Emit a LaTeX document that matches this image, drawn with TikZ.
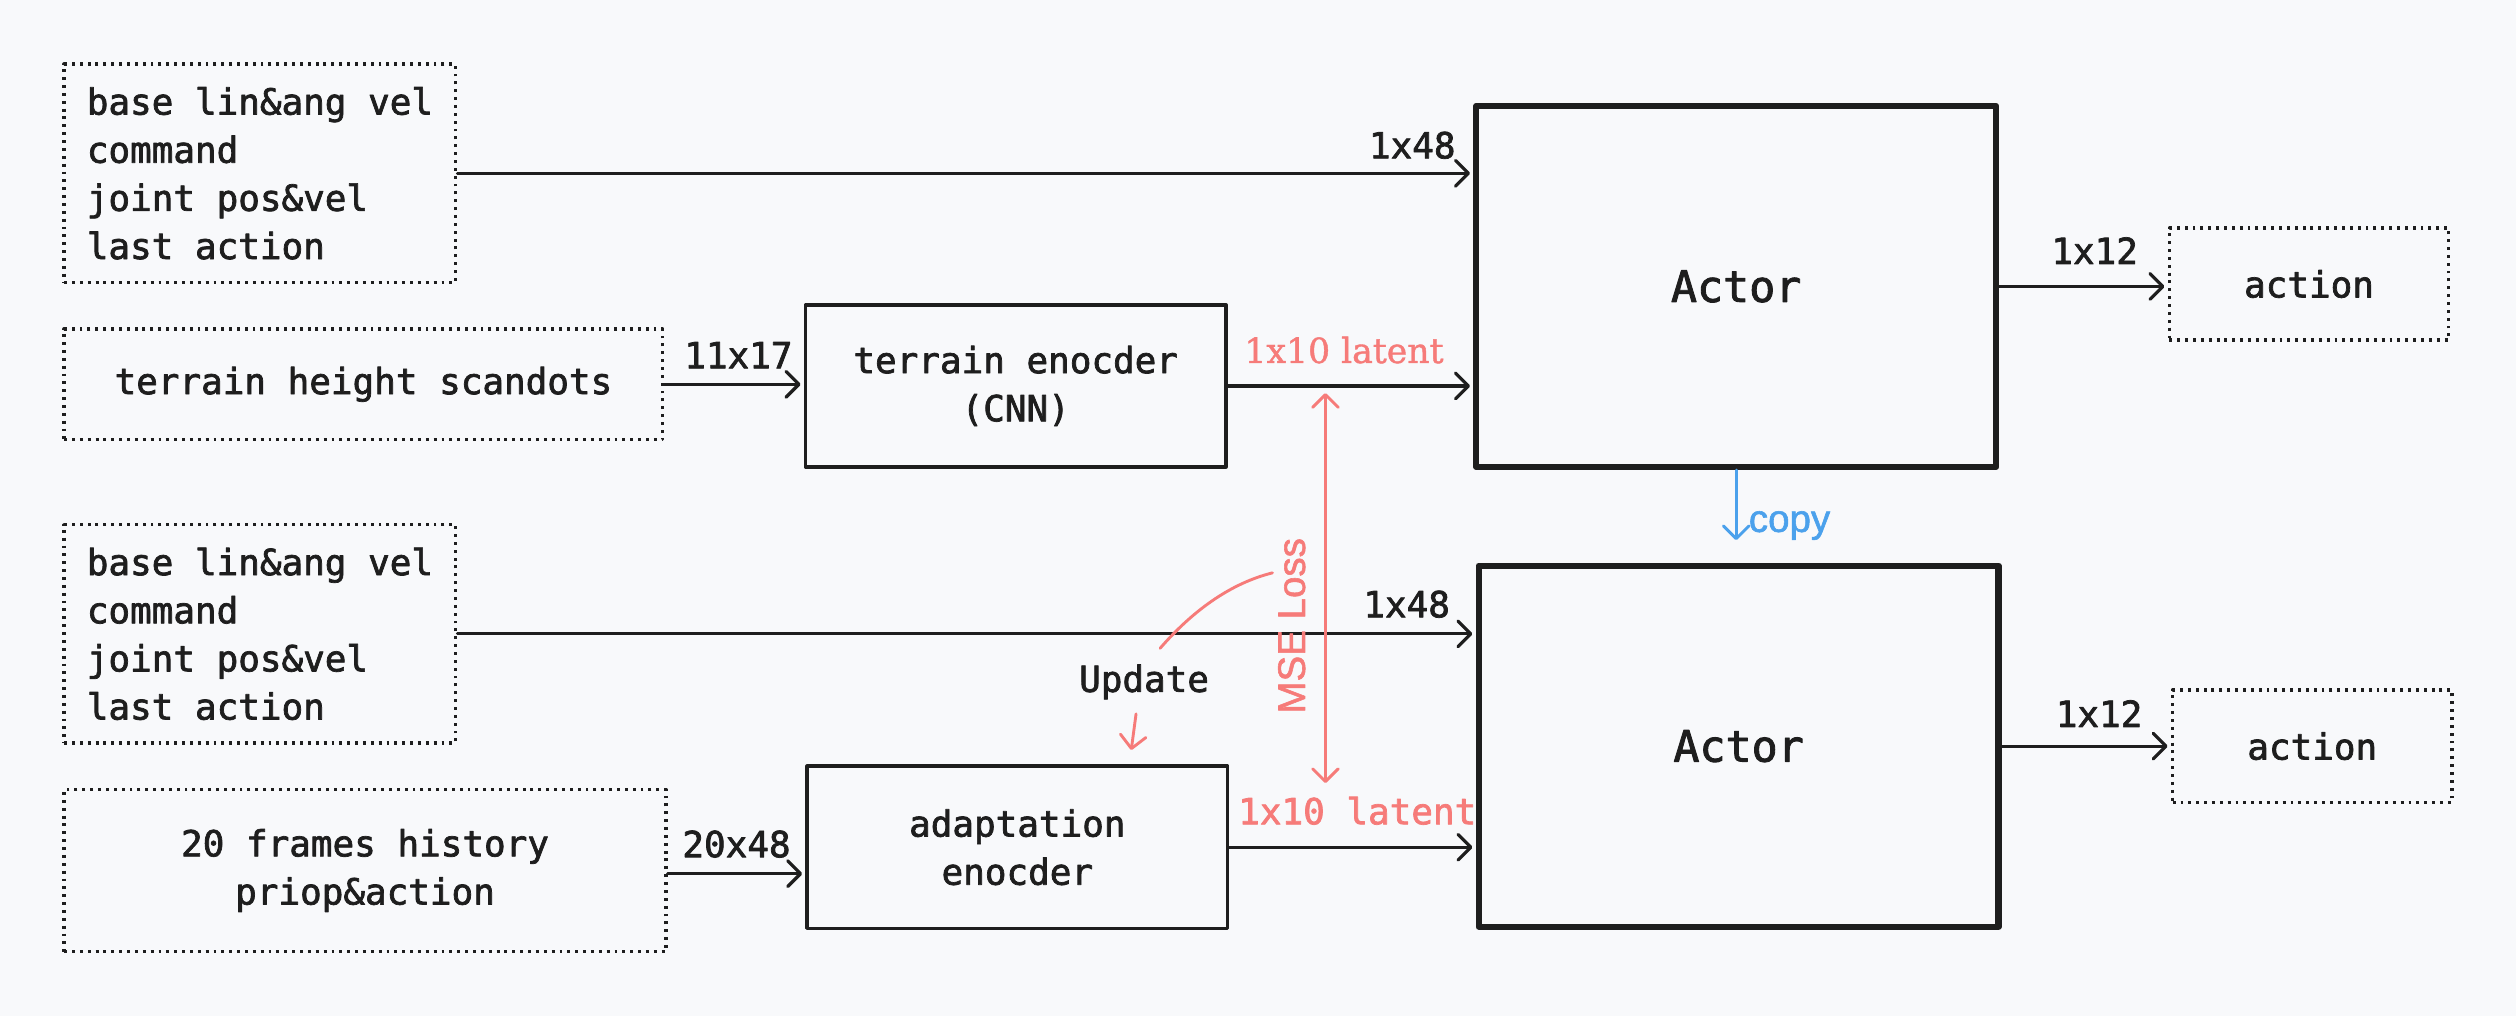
\documentclass[tikz,border=0pt]{standalone}
\usepackage{fontspec}
\setmainfont{DejaVu Serif}[FakeBold=1.2]
\setsansfont{Liberation Sans}[FakeBold=1.5]
\setmonofont{DejaVu Sans Mono}[FakeBold=2]
\usetikzlibrary{arrows.meta, positioning}

\definecolor{bgcol}{HTML}{F8F9FB}
\definecolor{inkcol}{HTML}{1E1E1E}
\definecolor{losscol}{HTML}{F67B79}
\definecolor{copycol}{HTML}{4BA1EC}

\begin{document}
\begin{tikzpicture}[
    x=0.5pt, y=-0.5pt,
    >={Straight Barb[round, length=4pt, width=8pt]},
    line join=round,
    font=\fontsize{11.2}{15}\selectfont\ttfamily,
    every node/.style={text=inkcol},
    dotbox/.style={draw=inkcol, line width=1.1pt, dash pattern=on 0.9pt off 1.55pt},
    obsbox/.style={dotbox, minimum width=122pt, minimum height=68pt, align=left},
    encbox/.style={draw=inkcol, line width=1.1pt, minimum width=131pt, minimum height=50.5pt, align=center},
    actorbox/.style={draw=inkcol, line width=1.9pt, minimum width=162pt, minimum height=112.5pt,
                     font=\fontsize{13.5}{16}\selectfont\ttfamily},
    flow/.style={->, draw=inkcol, line width=1pt, line cap=round, shorten >=1pt},
    dimlabel/.style={inner sep=4.5pt},
    latentlabel/.style={inner sep=4.5pt, text=losscol},
    lossline/.style={draw=losscol, line width=0.9pt, line cap=round}
]

  % ==================== ФОН ====================
  \fill[bgcol] (0,0) rectangle (1568,633);
  \useasboundingbox (0,0) rectangle (1568,633);

  % ==================== 1. ВЕРХНЯ ГІЛКА (TEACHER) ====================
  \node[obsbox] (obs1) at (162,108) {base lin\&ang vel\\command\\joint pos\&vel\\last action};
  \node[dotbox, minimum width=186.5pt, minimum height=34.5pt]
    (scan) at (226.5,239.5) {terrain height scandots};
  \node[encbox] (tenc) at (633,240.5) {terrain enocder\\(CNN)};
  \node[actorbox] (actor1) at (1082,178.5) {Actor};
  \node[dotbox, minimum width=87pt, minimum height=35pt] (act1) at (1439,177) {action};

  \draw[flow] (obs1.east) -- (obs1.east -| actor1.west)
    node[dimlabel, anchor=south east, xshift=-1pt, inner sep=4pt] (dimA) {1x48};
  \draw[flow] (scan.east) -- (scan.east -| tenc.west)
    node[dimlabel, anchor=south east, inner sep=3pt, yshift=1.5pt] (dimB) {11x17};
  \draw[flow] (tenc.east) -- (tenc.east -| actor1.west)
    node[midway, above, latentlabel, xshift=-2pt, yshift=2pt, font=\fontsize{10.8}{13}\selectfont\rmfamily] (lat1) {1x10 latent};
  \draw[flow] (actor1.east) -- (actor1.east -| act1.west)
    node[midway, above, dimlabel, xshift=3.5pt, yshift=2pt] (dimC) {1x12};

  % ==================== 2. КОПІЮВАННЯ ====================
  \node[actorbox] (actor2) at (1083.5,465) {Actor};
  \draw[->, draw=copycol, line width=0.9pt, line cap=round, shorten >=7pt]
    (actor1.south) -- (actor1.south |- actor2.north)
    node[pos=0.6, right, text=copycol, inner sep=3.5pt, font=\fontsize{12}{14}\selectfont\sffamily] (copy) {copy};

  % ==================== 3. НИЖНЯ ГІЛКА (STUDENT) ====================
  \node[obsbox] (obs2) at (162,395) {base lin\&ang vel\\command\\joint pos\&vel\\last action};
  \node[dotbox, minimum width=187.5pt, minimum height=50.5pt, align=center]
    (hist) at (227.5,542.5) {20 frames history\\priop\&action};
  \node[encbox] (aenc) at (634,528) {adaptation\\enocder};
  \node[dotbox, minimum width=87pt, minimum height=35pt] (act2) at (1441,465) {action};

  \draw[flow] (obs2.east) -- (obs2.east -| actor2.west)
    node[dimlabel, anchor=south east, xshift=-3pt] (dimD) {1x48};
  \draw[flow] ([yshift=-1pt]hist.east) -- ([yshift=-1pt]hist.east -| aenc.west)
    node[midway, above, dimlabel, inner sep=4.5pt] (dimE) {20x48};
  \draw[flow] (aenc.east) -- (aenc.east -| actor2.west)
    node[midway, above, latentlabel, yshift=2pt, xshift=1.5pt] (lat2) {1x10 latent};
  \draw[flow] (actor2.east) -- (actor2.east -| act2.west)
    node[midway, above, dimlabel, xshift=4pt, yshift=1pt] (dimF) {1x12};

  % ==================== 4. MSE LOSS ТА ОНОВЛЕННЯ ====================
  \coordinate (mtop) at (826,245);
  \coordinate (mbot) at (826,488);
  \draw[lossline, <->] (mbot) -- (mtop);
  \node[rotate=90, text=losscol, font=\fontsize{12}{14}\selectfont\sffamily] (mse) at (805,390) {MSE Loss};

  \node (upd) at (713,425) {Update};
  \draw[lossline] (793,357) .. controls (763,364.5) and (739.5,385) .. (723,404);
  \draw[lossline, ->] ([xshift=-2.5pt,yshift=-1pt]upd.south) -- ([xshift=35.5pt,yshift=4.5pt]aenc.north);

\end{tikzpicture}
\end{document}
